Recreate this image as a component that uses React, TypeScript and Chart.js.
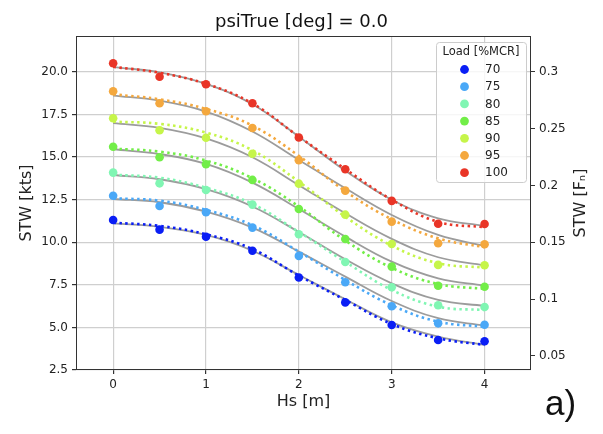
import React, { useEffect, useRef } from 'react';
import { Chart, registerables } from 'chart.js';

Chart.register(...registerables);

// ---------- data ----------
const HS = [0, 0.5, 1, 1.5, 2, 2.5, 3, 3.5, 4];
const LOADS = ['70', '75', '80', '85', '90', '95', '100'];
const COLORS = ['#0a1ef5', '#4aa8f7', '#80f6b3', '#72ee48', '#c6f54a', '#f4a83e', '#e93527'];

// measured points (STW [kts])
const MEAS_70 = [11.31, 10.74, 10.32, 9.5, 7.93, 6.47, 5.14, 4.26, 4.19];
const MEAS_75 = [12.73, 12.13, 11.76, 10.86, 9.2, 7.65, 6.24, 5.24, 5.16];
const MEAS_80 = [14.09, 13.46, 13.07, 12.21, 10.47, 8.84, 7.36, 6.3, 6.2];
const MEAS_85 = [15.61, 14.99, 14.58, 13.66, 11.95, 10.19, 8.57, 7.45, 7.39];
const MEAS_90 = [17.28, 16.58, 16.14, 15.2, 13.44, 11.62, 9.9, 8.67, 8.65];
const MEAS_95 = [18.87, 18.16, 17.69, 16.71, 14.82, 13.03, 11.21, 9.94, 9.88];
const MEAS_100 = [20.51, 19.72, 19.28, 18.16, 16.15, 14.29, 12.43, 11.09, 11.07];

// model curves (solid gray)
const MODEL_70 = [11.11, 10.9, 10.43, 9.5, 8.08, 6.65, 5.3, 4.46, 3.97];
const MODEL_75 = [12.54, 12.35, 11.8, 10.86, 9.45, 7.98, 6.55, 5.54, 5.1];
const MODEL_80 = [13.95, 13.7, 13.12, 12.1, 10.6, 9.0, 7.59, 6.61, 6.26];
const MODEL_85 = [15.46, 15.18, 14.6, 13.5, 11.95, 10.33, 8.86, 7.88, 7.45];
const MODEL_90 = [16.99, 16.72, 16.1, 14.99, 13.35, 11.7, 10.2, 9.12, 8.65];
const MODEL_95 = [18.61, 18.31, 17.67, 16.5, 14.83, 13.17, 11.6, 10.43, 9.78];
const MODEL_100 = [20.28, 19.98, 19.3, 18.1, 16.2, 14.2, 12.5, 11.4, 10.96];

// fitted curves (dotted, coloured)
const FIT_70 = [11.15, 10.96, 10.47, 9.6, 8.04, 6.61, 5.2, 4.36, 3.97];
const FIT_75 = [12.58, 12.44, 11.9, 11.0, 9.45, 7.79, 6.3, 5.34, 5.04];
const FIT_80 = [13.97, 13.79, 13.2, 12.25, 10.6, 8.85, 7.2, 6.22, 6.02];
const FIT_85 = [15.5, 15.32, 14.8, 13.76, 12.1, 10.1, 8.5, 7.55, 7.26];
const FIT_90 = [17.08, 16.95, 16.44, 15.4, 13.56, 11.5, 9.8, 8.77, 8.51];
const FIT_95 = [18.69, 18.39, 17.83, 16.85, 15.07, 13.0, 11.35, 10.23, 9.71];
const FIT_100 = [20.3, 19.95, 19.3, 18.15, 16.2, 14.3, 12.5, 11.2, 10.88];

const MEAS = [MEAS_70, MEAS_75, MEAS_80, MEAS_85, MEAS_90, MEAS_95, MEAS_100];
const MODEL = [MODEL_70, MODEL_75, MODEL_80, MODEL_85, MODEL_90, MODEL_95, MODEL_100];
const FIT = [FIT_70, FIT_75, FIT_80, FIT_85, FIT_90, FIT_95, FIT_100];

const X_TICKS = [0, 1, 2, 3, 4];
const Y_TICKS = [2.5, 5, 7.5, 10, 12.5, 15, 17.5, 20];
const FN_TICKS = [0.05, 0.1, 0.15, 0.2, 0.25, 0.3];
const FN_PER_KT = 0.015;
const X_MIN = -0.4;
const X_MAX = 4.5;
const Y_MIN = 2.5;
const Y_MAX = 22.11;

const TITLE = 'psiTrue [deg] = 0.0';
const LEGEND_TITLE = 'Load [%MCR]';
const FONT = "'DejaVu Sans', sans-serif";

const toXY = (arr: number[]) => arr.map((y, i) => ({ x: HS[i], y }));

const decorPlugin = {
  id: 'decor',
  afterDraw(chart: any) {
    const ctx = chart.ctx as CanvasRenderingContext2D;
    const ca = chart.chartArea;
    ctx.save();
    // frame
    ctx.strokeStyle = '#333';
    ctx.lineWidth = 1;
    ctx.strokeRect(ca.left + 0.5, ca.top + 0.5, ca.right - ca.left - 1, ca.bottom - ca.top - 1);

    // legend
    const lw = 90;
    const lh = 140;
    const lx = ca.right - 95;
    const ly = ca.top + 6;
    ctx.beginPath();
    (ctx as any).roundRect(lx + 0.5, ly + 0.5, lw, lh, 3);
    ctx.fillStyle = 'rgba(255,255,255,0.8)';
    ctx.fill();
    ctx.strokeStyle = '#cccccc';
    ctx.lineWidth = 1;
    ctx.stroke();
    ctx.fillStyle = '#222';
    ctx.font = `11.5px ${FONT}`;
    ctx.textAlign = 'center';
    ctx.textBaseline = 'middle';
    ctx.fillText(LEGEND_TITLE, lx + lw / 2, ly + 10);
    ctx.font = `12px ${FONT}`;
    ctx.textAlign = 'left';
    LOADS.forEach((lab, i) => {
      const yy = ly + 27.5 + i * 17.2;
      ctx.beginPath();
      ctx.arc(lx + 28.5, yy, 4.4, 0, Math.PI * 2);
      ctx.fillStyle = COLORS[i];
      ctx.fill();
      ctx.fillStyle = '#222';
      ctx.fillText(lab, lx + 49, yy + 0.5);
    });

    // right axis title
    ctx.save();
    ctx.translate(581, (ca.top + ca.bottom) / 2);
    ctx.rotate(-Math.PI / 2);
    ctx.font = `16px ${FONT}`;
    ctx.fillStyle = '#222';
    ctx.textAlign = 'center';
    ctx.textBaseline = 'middle';
    ctx.fillText('STW [F\u2099]', 0, 0);
    ctx.restore();

    // panel label
    ctx.font = `35px 'Liberation Sans', Arial, sans-serif`;
    ctx.fillStyle = '#111';
    ctx.textAlign = 'left';
    ctx.textBaseline = 'alphabetic';
    ctx.fillText('a)', 545, 415);
    ctx.restore();
  },
};

export default function App() {
  const ref = useRef<HTMLCanvasElement | null>(null);

  useEffect(() => {
    if (!ref.current) return;
    const datasets: any[] = [];
    LOADS.forEach((lab, i) => {
      datasets.push({
        label: lab + ' pts',
        data: toXY(MEAS[i]),
        showLine: false,
        pointRadius: 4.3,
        pointBorderWidth: 0,
        pointBackgroundColor: COLORS[i],
        backgroundColor: COLORS[i],
        borderColor: COLORS[i],
        order: 0,
      });
      datasets.push({
        label: lab + ' fit',
        data: toXY(FIT[i]),
        borderColor: COLORS[i],
        borderWidth: 2.6,
        borderDash: [2.5, 3.5],
        pointRadius: 0,
        tension: 0.4,
        fill: false,
        order: 1,
      });
      datasets.push({
        label: lab + ' model',
        data: toXY(MODEL[i]),
        borderColor: '#9c9c9c',
        borderWidth: 1.8,
        pointRadius: 0,
        tension: 0.4,
        fill: false,
        order: 2,
      });
    });

    const tickFont = { family: FONT, size: 12 };
    const chart = new Chart(ref.current, {
      type: 'line',
      data: { datasets },
      options: {
        animation: false,
        responsive: false,
        devicePixelRatio: 1,
        layout: { padding: 0 },
        plugins: {
          legend: { display: false },
          tooltip: { enabled: false },
          title: {
            display: true,
            text: TITLE,
            color: '#111',
            font: { family: FONT, size: 18, weight: 'normal', lineHeight: 1.2 },
            padding: { top: 12, bottom: 2.4 },
          },
        },
        scales: {
          x: {
            type: 'linear',
            min: X_MIN,
            max: X_MAX,
            afterBuildTicks: (s: any) => {
              s.ticks = X_TICKS.map((v) => ({ value: v }));
            },
            afterFit: (s: any) => {
              s.height = 64;
            },
            ticks: {
              font: tickFont,
              color: '#222',
              padding: 4,
              maxRotation: 0,
              callback: (v: any) => String(v),
            },
            grid: { color: '#cfcfcf', lineWidth: 1.2, tickLength: 4, tickColor: '#333' },
            border: { display: false },
            title: {
              display: true,
              text: 'Hs [m]',
              color: '#222',
              font: { family: FONT, size: 16, lineHeight: 1.2 },
              padding: { top: 0, bottom: 23 },
            },
          },
          y: {
            type: 'linear',
            position: 'left',
            min: Y_MIN,
            max: Y_MAX,
            afterBuildTicks: (s: any) => {
              s.ticks = Y_TICKS.map((v) => ({ value: v }));
            },
            afterFit: (s: any) => {
              s.width = 76;
            },
            ticks: {
              font: tickFont,
              color: '#222',
              padding: 4,
              callback: (v: any) => Number(v).toFixed(1),
            },
            grid: { color: '#cfcfcf', lineWidth: 1.2, tickLength: 4, tickColor: '#333' },
            border: { display: false },
            title: {
              display: true,
              text: 'STW [kts]',
              color: '#222',
              font: { family: FONT, size: 16, lineHeight: 1.2 },
              padding: { top: 17.5, bottom: 0 },
            },
          },
          y2: {
            type: 'linear',
            position: 'right',
            min: Y_MIN * FN_PER_KT,
            max: Y_MAX * FN_PER_KT,
            afterBuildTicks: (s: any) => {
              s.ticks = FN_TICKS.map((v) => ({ value: v }));
            },
            afterFit: (s: any) => {
              s.width = 72;
            },
            ticks: {
              font: tickFont,
              color: '#222',
              padding: 4,
              callback: (v: any) => String(Number(Number(v).toFixed(2))),
            },
            grid: { drawOnChartArea: false, tickLength: 4, tickColor: '#333' },
            border: { display: false },
          },
        },
      } as any,
      plugins: [decorPlugin],
    });
    return () => chart.destroy();
  }, []);

  return (
    <div style={{ position: 'fixed', left: 0, top: 0, width: 603, height: 434, background: '#fff' }}>
      <canvas ref={ref} width={603} height={434} style={{ width: 603, height: 434, display: 'block' }} />
    </div>
  );
}
